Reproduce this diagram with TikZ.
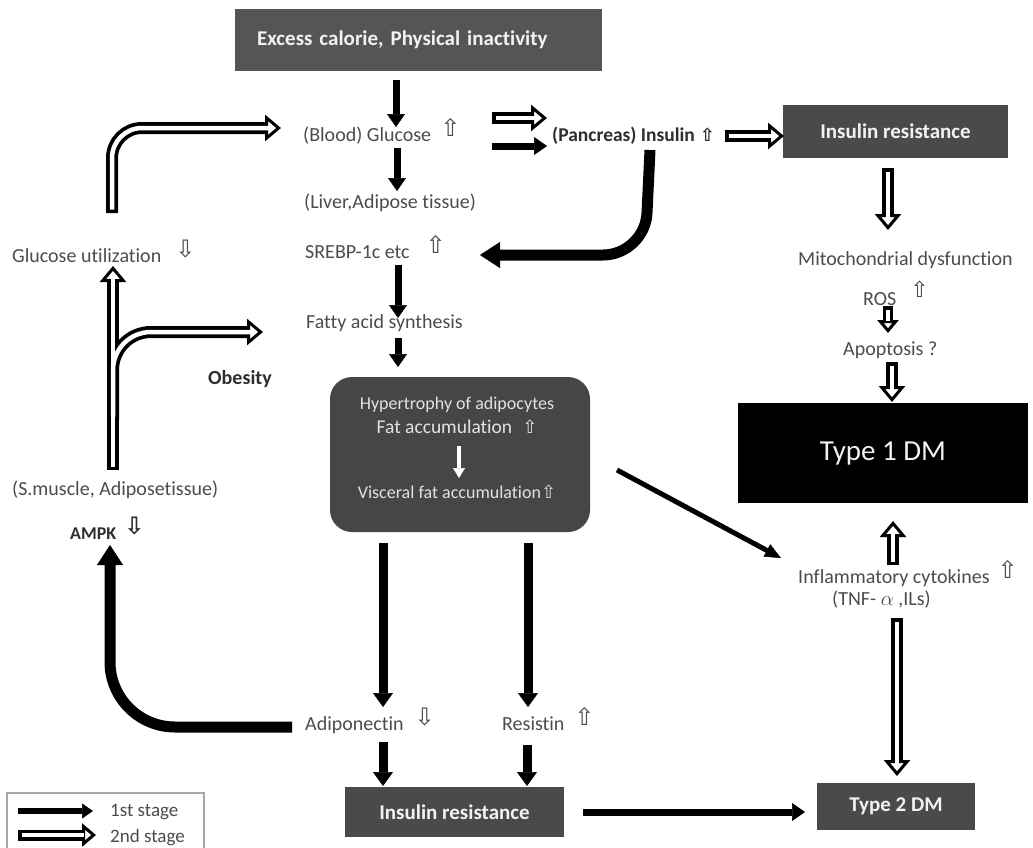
\documentclass[tikz,border=0pt]{standalone}
\usepackage{fontspec}
\setmainfont{Carlito}[Ligatures=NoCommon]
\newfontfamily\symf{DejaVu Sans}
\usetikzlibrary{arrows.meta}
\definecolor{boxg}{HTML}{555555}
\definecolor{boxd}{HTML}{4A4A4A}
\definecolor{cbox}{HTML}{464646}
\definecolor{txt}{HTML}{4C4C4C}
\definecolor{btxt}{HTML}{2E2E2E}
\definecolor{wtxt}{HTML}{F2F2F2}
\definecolor{ctxtc}{HTML}{E2E2E2}
\newcommand{\UpA}{\raisebox{5pt}{\fontsize{24pt}{24pt}\symf ⇧}}
\newcommand{\DnA}{\raisebox{5pt}{\fontsize{24pt}{24pt}\symf ⇩}}
\begin{document}
\begin{tikzpicture}[x=1pt,y=-1pt,
  darkbox/.style={fill=boxd, text=wtxt, inner sep=0pt, font=\bfseries\fontsize{21pt}{24pt}\selectfont},
  lbl/.style={inner sep=0pt, anchor=base west, text=txt, font=\fontsize{20pt}{24pt}\selectfont},
  blbl/.style={inner sep=0pt, anchor=base west, text=btxt, font=\bfseries\fontsize{20pt}{24pt}\selectfont},
  ctxt/.style={inner sep=0pt, text=ctxtc, font=\fontsize{18pt}{20pt}\selectfont},
  fa/.style={line width=7pt, -{Triangle[length=13pt,width=18pt,line width=0.5pt]}},
  fab/.style={line width=11pt, -{Triangle[length=20pt,width=26pt,line width=0.5pt]}},
  hout/.style={line width=12pt, draw=black, -{Triangle[length=16pt,width=26pt,line width=3pt,fill=white]}},
  hin/.style={draw=white, line width=4.5pt, shorten <=3.5pt, shorten >=12pt},
  hollow/.style={hout, postaction={draw=white, line width=4.5pt, arrows=-, shorten <=3.5pt, shorten >=12pt}}
]
\useasboundingbox (0,0) rectangle (1033,847);
\fill[white] (0,0) rectangle (1033,847);

% ---------- boxes ----------
\node[darkbox, fill=boxg, text width=323pt, inner xsep=22pt, align=left, minimum height=62pt] (top) at (418.5,40) {Excess calorie, Physical inactivity};
\node[darkbox, minimum width=225pt, minimum height=53pt] (irt) at (895.5,131.5) {Insulin resistance};
\node[fill=black, text=wtxt, minimum width=290pt, minimum height=100pt, inner sep=0pt, font=\fontsize{29pt}{32pt}\selectfont] (t1) at (883,453) {Type 1 DM};
\node[darkbox, minimum width=158pt, minimum height=47pt] (t2) at (896,806.5) {Type 2 DM};
\node[darkbox, minimum width=219pt, minimum height=50pt] (irb) at (454.5,812) {Insulin resistance};
\node[fill=cbox, rounded corners=22pt, minimum width=260pt, minimum height=155pt, inner sep=0pt] (cb) at (460,454.5) {};
\node[ctxt] (hyp) at (457,405) {Hypertrophy of adipocytes};
\node[ctxt, font=\fontsize{19.5pt}{22pt}\selectfont] (fat) at (457,427) {Fat accumulation\hspace{10pt}{\fontsize{18pt}{18pt}\symf ⇧}};
\node[ctxt] (vis) at (457,492) {Visceral fat accumulation{\fontsize{18pt}{18pt}\symf ⇧}};

% ---------- labels ----------
\node[lbl] (glu) at (303,141) {(Blood) Glucose\hspace{9pt}\UpA};
\node[lbl] (liv) at (304,208) {(Liver,Adipose tissue)};
\node[lbl] (sre) at (305,258) {SREBP-1c etc\hspace{16pt}\UpA};
\node[lbl] (fas) at (306,328) {Fatty acid synthesis};
\node[blbl, font=\bfseries\fontsize{19.5pt}{22pt}\selectfont] (ins) at (552,141) {(Pancreas) Insulin\hspace{5pt}{\fontsize{18pt}{18pt}\symf ⇧}};
\node[lbl] (mito) at (798,265) {Mitochondrial dysfunction};
\node[lbl] (ros) at (863,305) {ROS\hspace{14pt}\raisebox{8pt}{\fontsize{22pt}{22pt}\symf ⇧}};
\node[lbl] (apo) at (843,355) {Apoptosis ?};
\node[lbl] (infl) at (798,583) {Inflammatory cytokines\hspace{8pt}\UpA};
\node[lbl] (tnf) at (832,605) {(TNF- $\alpha$ ,ILs)};
\node[lbl] (adi) at (305,730) {Adiponectin\hspace{11pt}\DnA};
\node[lbl] (res) at (502,730) {Resistin\hspace{10pt}\UpA};
\node[lbl] (gu) at (12,262) {Glucose utilization\hspace{14pt}\DnA};
\node[blbl] (ob) at (208,384) {Obesity};
\node[lbl] (sm) at (12,495) {(S.muscle, Adiposetissue)};
\node[blbl, font=\bfseries\fontsize{18pt}{22pt}\selectfont] (ampk) at (70,539) {AMPK\hspace{8pt}\DnA};

% ---------- connector end points ----------
\coordinate (a1s) at (396,80);   \coordinate (a1e) at (396,127);
\coordinate (a2s) at (397,148);  \coordinate (a2e) at (397,191);
\coordinate (h1s) at (492,118);  \coordinate (h1e) at (547,118);
\coordinate (f1s) at (492,146);  \coordinate (f1e) at (547,146);
\coordinate (h2s) at (725,136);  \coordinate (h2e) at (784,136);
\coordinate (c1) at (650,150);   \coordinate (c2) at (645,255);  \coordinate (c3) at (480,255);
\coordinate (a3s) at (398,265);  \coordinate (a3e) at (398,318);
\coordinate (a4s) at (398,338);  \coordinate (a4e) at (398,367);
\coordinate (w1s) at (459,446);  \coordinate (w1e) at (459,478);
\coordinate (a5s) at (383,543);  \coordinate (a5e) at (383,707);
\coordinate (a6s) at (528,543);  \coordinate (a6e) at (528,707);
\coordinate (a7s) at (383,742);  \coordinate (a7e) at (383,786);
\coordinate (a8s) at (527,745);  \coordinate (a8e) at (527,786);
\coordinate (a9s) at (583,812);  \coordinate (a9e) at (805,812);
\coordinate (dgs) at (617,470);  \coordinate (dge) at (781,558);
\coordinate (k1) at (292,727);   \coordinate (k2) at (110,727);  \coordinate (k3) at (110,545);
\coordinate (r1s) at (888,168);  \coordinate (r1e) at (888,230);
\coordinate (r2s) at (888,306);  \coordinate (r2e) at (888,333);
\coordinate (r3s) at (892,362);  \coordinate (r3e) at (892,402);
\coordinate (r4s) at (893,565);  \coordinate (r4e) at (893,521);
\coordinate (r5s) at (897,618);  \coordinate (r5e) at (897,776);
\coordinate (p1a) at (112,213);  \coordinate (p1b) at (112,128); \coordinate (p1c) at (281,128);
\coordinate (lv1) at (113,470);  \coordinate (lv2) at (113,266);
\coordinate (lb1) at (113,420);  \coordinate (lbc) at (113,332); \coordinate (lb2) at (263,332);

% ---------- 1st stage (filled) ----------
\draw[fa] (a1s) -- (a1e);
\draw[fa] (a2s) -- (a2e);
\draw[fa] (f1s) -- (f1e);
\draw[fab, rounded corners=42pt] (c1) -- (c2) -- (c3);
\draw[fa] (a3s) -- (a3e);
\draw[fa] (a4s) -- (a4e);
\draw[white, line width=4.5pt, -{Triangle[length=10pt,width=12pt,line width=0.5pt]}] (w1s) -- (w1e);
\draw[fa, line width=9pt, -{Triangle[length=14pt,width=20pt,line width=0.5pt]}] (a5s) -- (a5e);
\draw[fa, line width=9pt, -{Triangle[length=14pt,width=20pt,line width=0.5pt]}] (a6s) -- (a6e);
\draw[fa, line width=9pt, -{Triangle[length=14pt,width=20pt,line width=0.5pt]}] (a7s) -- (a7e);
\draw[fa, line width=9pt, -{Triangle[length=14pt,width=20pt,line width=0.5pt]}] (a8s) -- (a8e);
\draw[fa] (a9s) -- (a9e);
\draw[line width=5pt, -{Triangle[length=16pt,width=14pt,line width=0.5pt]}] (dgs) -- (dge);
\draw[fab, rounded corners=65pt] (k1) -- (k2) -- (k3);

% ---------- 2nd stage (hollow) ----------
\draw[hollow] (h1s) -- (h1e);
\draw[hollow] (h2s) -- (h2e);
\draw[hollow] (r1s) -- (r1e);
\draw[hollow, line width=10pt, -{Triangle[length=13pt,width=21pt,line width=3pt,fill=white]}] (r2s) -- (r2e);
\draw[hollow] (r3s) -- (r3e);
\draw[hollow] (r4s) -- (r4e);
\draw[hollow] (r5s) -- (r5e);
\draw[hollow, rounded corners=30pt] (p1a) -- (p1b) -- (p1c);
\draw[hout] (lv1) -- (lv2);
\draw[hout, rounded corners=38pt] (lb1) -- (lbc) -- (lb2);
\draw[hin] (lv1) -- (lv2);
\draw[hin, rounded corners=38pt] (lb1) -- (lbc) -- (lb2);

% ---------- legend ----------
\draw[gray!70, line width=1.2pt] (7,850) -- (7,793) -- (204,793) -- (204,850);
\coordinate (l1s) at (18,811); \coordinate (l1e) at (93,811);
\coordinate (l2s) at (18,835); \coordinate (l2e) at (96,835);
\draw[fa, line width=6pt, -{Triangle[length=11pt,width=15pt,line width=0.5pt]}] (l1s) -- (l1e);
\draw[hollow, line width=11pt, -{Triangle[length=14pt,width=23pt,line width=3pt,fill=white]}] (l2s) -- (l2e);
\node[lbl, font=\fontsize{19pt}{22pt}\selectfont] (s1) at (110,816) {1st stage};
\node[lbl, font=\fontsize{19pt}{22pt}\selectfont] (s2) at (110,842) {2nd stage};
\end{tikzpicture}
\end{document}
